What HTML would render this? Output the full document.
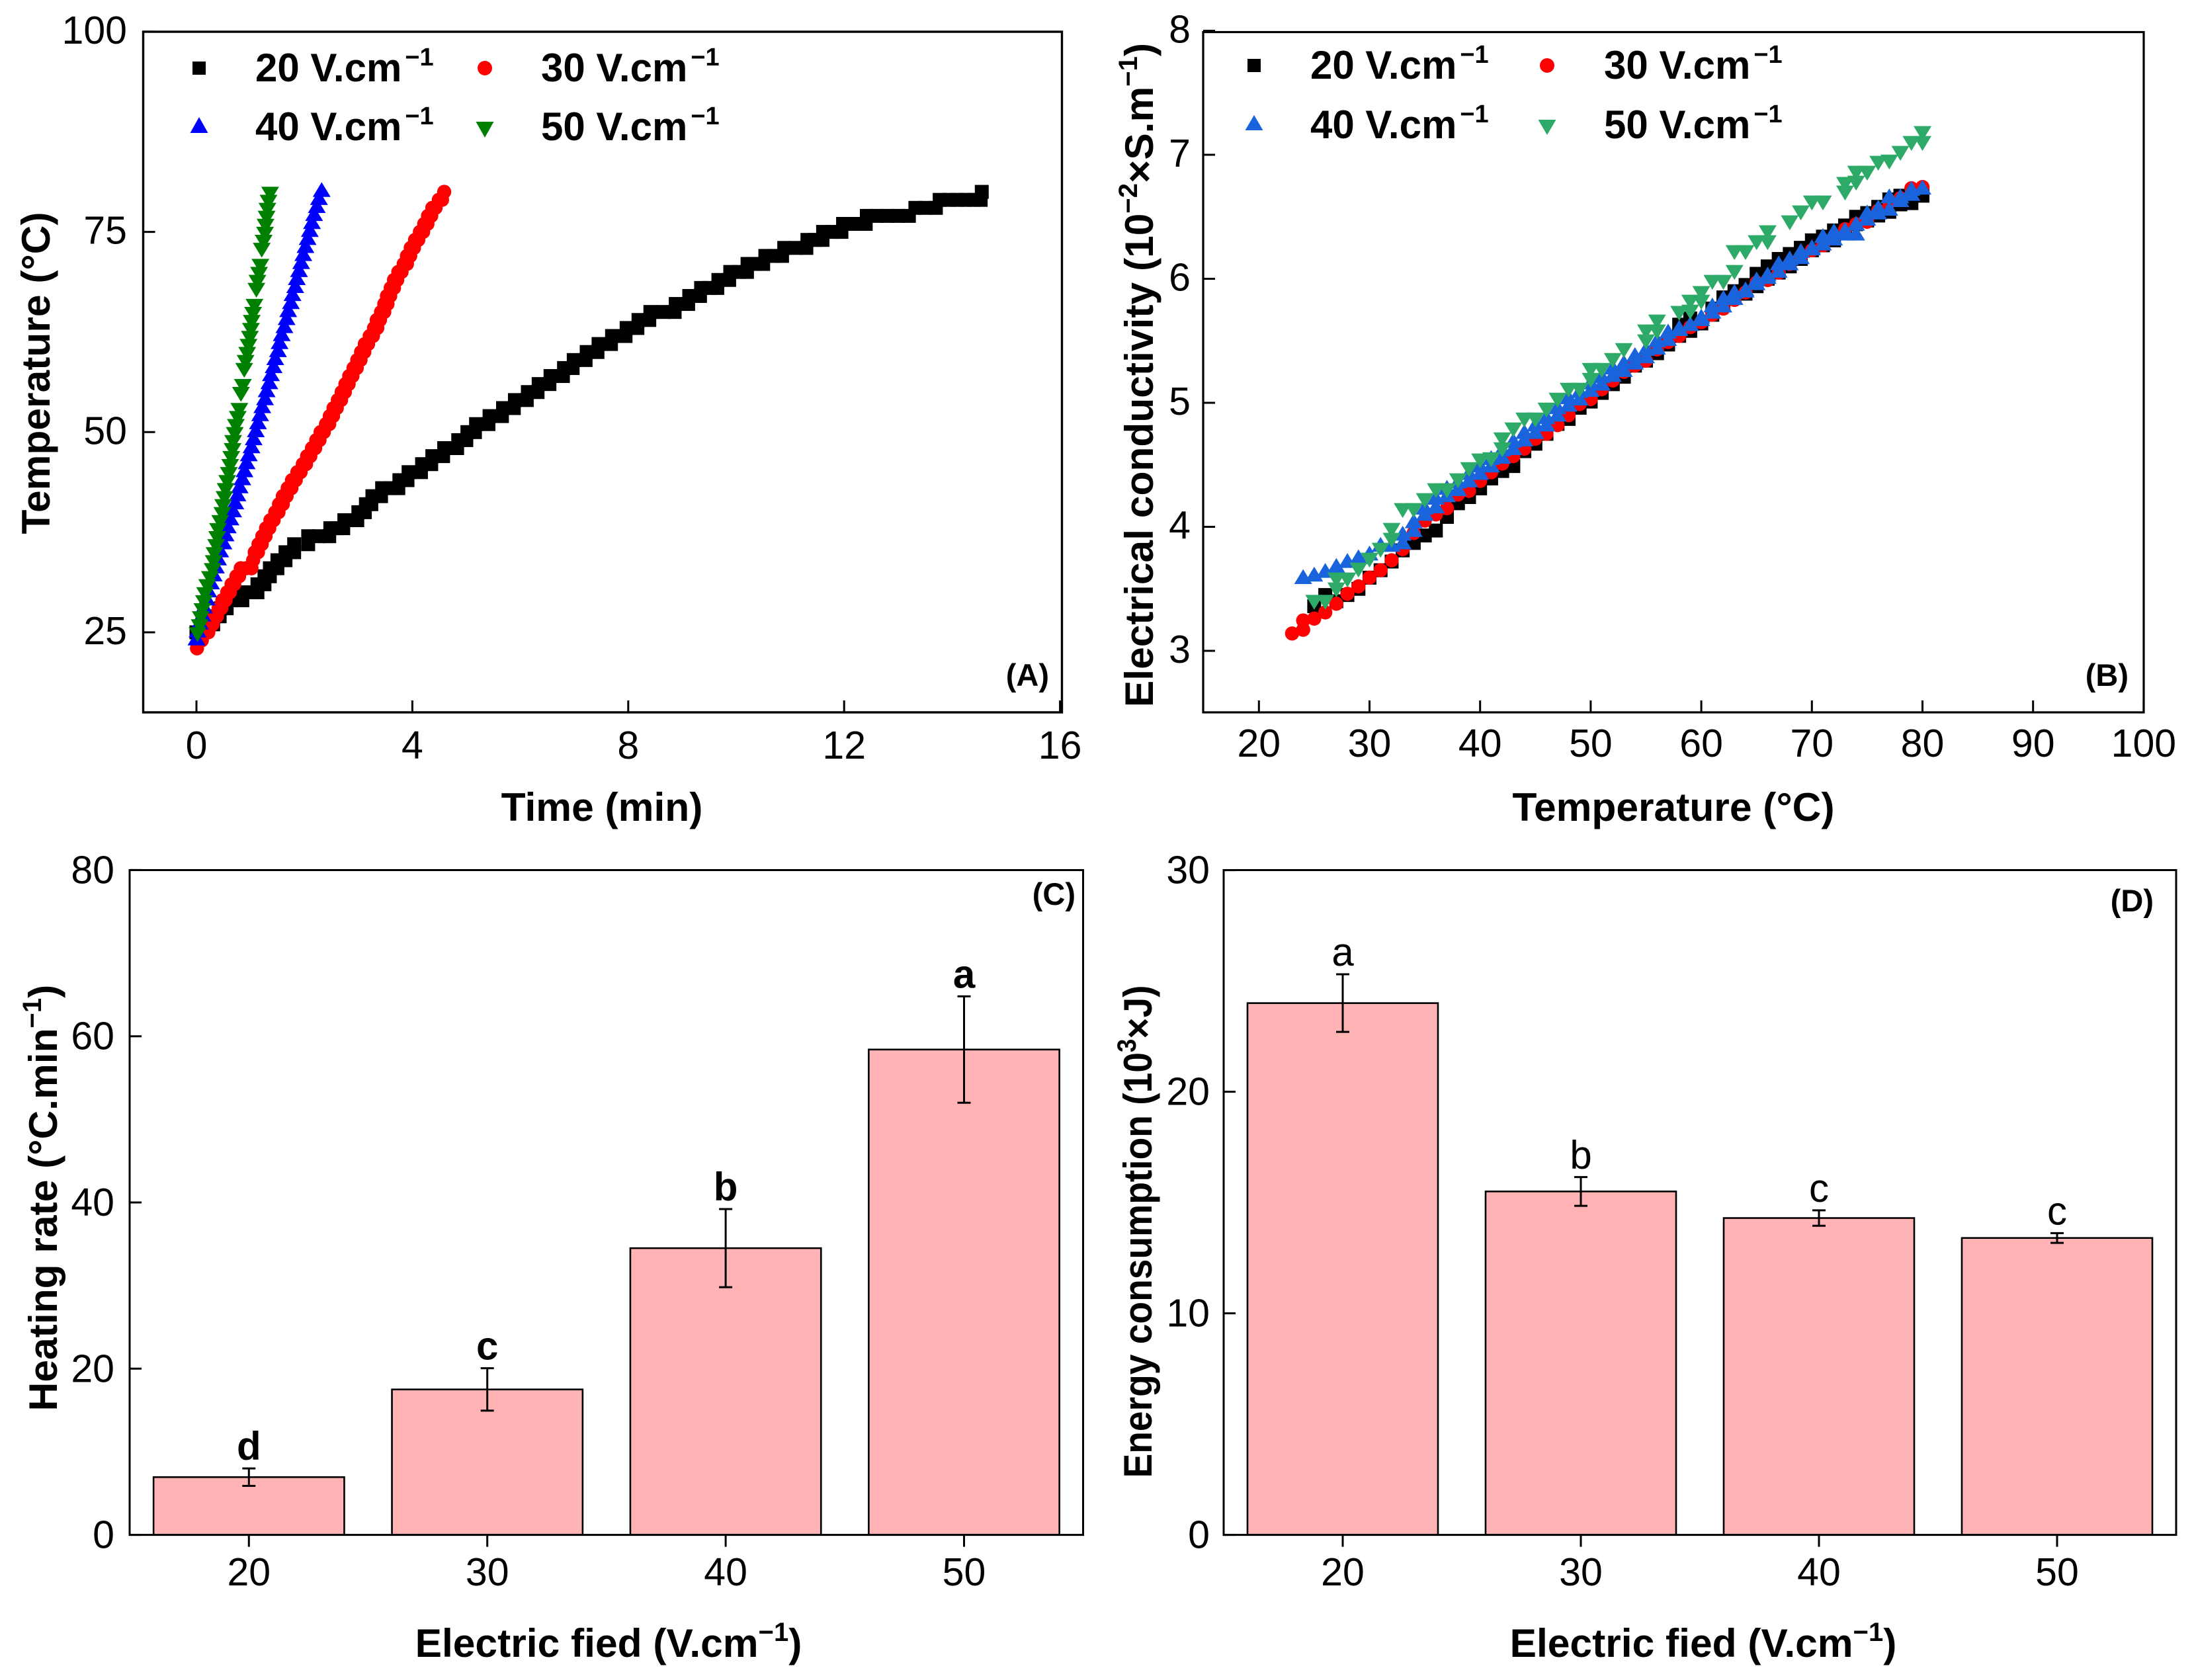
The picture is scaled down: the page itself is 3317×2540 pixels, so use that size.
<!DOCTYPE html>
<html lang="en">
<head>
<meta charset="utf-8">
<title>Ohmic heating panels</title>
<style>
html,body{margin:0;padding:0;background:#fff;}
svg{display:block;}
text{font-family:"Liberation Sans",sans-serif;fill:#000;}
.t{font-size:60.5px;font-weight:bold;}
.l{font-size:60px;font-weight:bold;}
.p{font-size:47px;font-weight:bold;text-anchor:end;}
.k{font-size:59px;}
</style>
</head>
<body>
<svg id="chart" width="3317" height="2540" viewBox="0 0 3317 2540" xmlns="http://www.w3.org/2000/svg">
<rect width="3317" height="2540" fill="#fff"/>
<g id="marks-a"></g>
<g id="marks-b"></g>
<g id="marks-c"></g>
<g id="marks-d"></g>
<g id="axes"></g>

<text class="t" text-anchor="middle" transform="translate(75,564) rotate(-90)">Temperature (°C)</text>
<text class="t" text-anchor="middle" x="910" y="1241">Time (min)</text>
<text class="p" x="1586" y="1037">(A)</text>

<text class="t" text-anchor="middle" transform="translate(1743,567) rotate(-90)">Electrical conductivity (10<tspan font-size="40" dy="-24">−2</tspan><tspan dy="24">×S.m</tspan><tspan font-size="40" dy="-24">−1</tspan><tspan dy="24">)</tspan></text>
<text class="t" text-anchor="middle" x="2530" y="1241">Temperature (°C)</text>
<text class="p" x="3218" y="1037">(B)</text>

<text class="t" text-anchor="middle" transform="translate(86,1811) rotate(-90)">Heating rate (°C.min<tspan font-size="40" dy="-24">−1</tspan><tspan dy="24">)</tspan></text>
<text class="t" text-anchor="middle" x="920" y="2505">Electric fied (V.cm<tspan font-size="40" dy="-24">−1</tspan><tspan dy="24">)</tspan></text>
<text class="p" x="1626" y="1368">(C)</text>

<text class="t" text-anchor="middle" transform="translate(1741,1862) rotate(-90) scale(0.912,1)">Energy consumption (10<tspan font-size="40" dy="-24">3</tspan><tspan dy="24">×J)</tspan></text>
<text class="t" text-anchor="middle" x="2575" y="2505">Electric fied (V.cm<tspan font-size="40" dy="-24">−1</tspan><tspan dy="24">)</tspan></text>
<text class="p" x="3256" y="1378">(D)</text>

<g>
  <rect x="291" y="93" width="20" height="20" fill="#000"/>
  <text class="l" x="386" y="123">20 V.cm<tspan font-size="38" dy="-24" dx="5">−1</tspan></text>
  <circle cx="733" cy="103" r="11" fill="#f00"/>
  <text class="l" x="818" y="123">30 V.cm<tspan font-size="38" dy="-24" dx="5">−1</tspan></text>
  <polygon points="301,177 314.5,201 287.5,201" fill="#00f"/>
  <text class="l" x="386" y="212">40 V.cm<tspan font-size="38" dy="-24" dx="5">−1</tspan></text>
  <polygon points="719.5,184 746.5,184 733,208" fill="#008000"/>
  <text class="l" x="818" y="212">50 V.cm<tspan font-size="38" dy="-24" dx="5">−1</tspan></text>
</g>
<g>
  <rect x="1886" y="89" width="20" height="20" fill="#000"/>
  <text class="l" x="1981" y="119">20 V.cm<tspan font-size="38" dy="-24" dx="5">−1</tspan></text>
  <circle cx="2339" cy="99" r="11" fill="#f00"/>
  <text class="l" x="2425" y="119">30 V.cm<tspan font-size="38" dy="-24" dx="5">−1</tspan></text>
  <polygon points="1896,174 1909.5,197 1882.5,197" fill="#1964dc"/>
  <text class="l" x="1981" y="209">40 V.cm<tspan font-size="38" dy="-24" dx="5">−1</tspan></text>
  <polygon points="2325.5,181 2352.5,181 2339,204" fill="#2eaa68"/>
  <text class="l" x="2425" y="209">50 V.cm<tspan font-size="38" dy="-24" dx="5">−1</tspan></text>
</g>
</svg>
<script>
/* ---------- Panel A: time (min) vs temperature (°C) ---------- */
const timeA20 = [0,0.1, 0.15,0.31, 0.33,0.43, 0.45,0.56, 0.65,0.85, 0.85,1.0,1.13, 1.13,1.26, 1.26,1.36, 1.36,1.5, 1.5,1.65, 1.65,1.81, 1.81,2.07, 2.07,2.27,2.46, 2.48,2.6,2.72, 2.74,2.86,2.98, 3.0,3.12, 3.14,3.24, 3.26,3.42, 3.44,3.6,3.74, 3.76,3.91, 3.93,4.16, 4.18,4.35, 4.37,4.57, 4.59,4.83, 4.85,5.0, 5.02,5.16, 5.18,5.41, 5.43,5.66, 5.68,5.88, 5.9,6.12, 6.14,6.32, 6.34,6.54, 6.56,6.79, 6.81,6.97, 6.99,7.21, 7.23,7.43, 7.45,7.68, 7.7,7.95, 7.97,8.17, 8.19,8.39, 8.41,8.65,8.86, 8.88,9.11, 9.13,9.33, 9.35,9.5,9.65, 9.67,9.87, 9.89,10.05,10.2, 10.21,10.35,10.5, 10.54,10.7,10.85, 10.89,11.1,11.3, 11.32,11.46,11.6, 11.61,11.78,11.95, 11.98,12.18,12.4, 12.42,12.6,12.8,13.0,13.2, 13.32,13.5,13.7, 13.77,13.95,14.1,14.25,14.4,14.53, 14.55];
const tempA20 = [25,25, 26,26, 27,27, 28,28, 29,29, 30,30,30, 31,31, 32,32, 33,33, 34,34, 35,35, 36,36, 37,37,37, 38,38,38, 39,39,39, 40,40, 41,41, 42,42, 43,43,43, 44,44, 45,45, 46,46, 47,47, 48,48, 49,49, 50,50, 51,51, 52,52, 53,53, 54,54, 55,55, 56,56, 57,57, 58,58, 59,59, 60,60, 61,61, 62,62, 63,63, 64,64, 65,65,65, 66,66, 67,67, 68,68,68, 69,69, 70,70,70, 71,71,71, 72,72,72, 73,73,73, 74,74,74, 75,75,75, 76,76,76, 77,77,77,77,77, 78,78,78, 79,79,79,79,79,79, 80];
const timeA30 = [0.01, 0.1, 0.18,0.22, 0.26,0.3, 0.33,0.38, 0.41,0.46, 0.48,0.54, 0.57,0.62, 0.65,0.7, 0.74,0.79, 0.82,0.92,1.02, 1.05, 1.08,1.14, 1.15,1.21, 1.22,1.28, 1.29,1.35, 1.37,1.43, 1.46,1.52, 1.53,1.6, 1.6,1.67, 1.69,1.76, 1.77,1.84, 1.87,1.93, 1.97,2.03, 2.05,2.11, 2.14,2.2, 2.22,2.28, 2.3,2.36, 2.4,2.46, 2.47,2.53, 2.54,2.6, 2.62,2.68, 2.69,2.75, 2.76,2.82, 2.83,2.89, 2.91,2.97, 2.98,3.04, 3.05,3.11, 3.12,3.18, 3.21,3.27, 3.29,3.35, 3.34,3.4, 3.42,3.48, 3.48,3.54, 3.53,3.59, 3.6,3.66, 3.66,3.72, 3.74,3.8, 3.84,3.9, 3.9,3.96, 3.97,4.03, 4.05,4.11, 4.14,4.2, 4.22,4.28, 4.29,4.35, 4.37,4.43, 4.49,4.55, 4.59];
const tempA30 = [23, 24, 25,25, 26,26, 27,27, 28,28, 29,29, 30,30, 31,31, 32,32, 33,33,33, 34, 35,35, 36,36, 37,37, 38,38, 39,39, 40,40, 41,41, 42,42, 43,43, 44,44, 45,45, 46,46, 47,47, 48,48, 49,49, 50,50, 51,51, 52,52, 53,53, 54,54, 55,55, 56,56, 57,57, 58,58, 59,59, 60,60, 61,61, 62,62, 63,63, 64,64, 65,65, 66,66, 67,67, 68,68, 69,69, 70,70, 71,71, 72,72, 73,73, 74,74, 75,75, 76,76, 77,77, 78,78, 79,79, 80];
const timeA40 = [0,0.02,0.06,0.11,0.14,0.19,0.22,0.27,0.32,0.36,0.4,0.44,0.5,0.54,0.58,0.63,0.68,0.72,0.76,0.8,0.85,0.89,0.93,0.97,1.02,1.06,1.1,1.14,1.18,1.22,1.27,1.3,1.35,1.38,1.43,1.46,1.51,1.54,1.58,1.63,1.67,1.7,1.75,1.78,1.83,1.86,1.9,1.94,1.98,2.02,2.06,2.1,2.14,2.18,2.23,2.27,2.32];
const tempA40 = [24,25,26,27,28,29,30,31,32,33,34,35,36,37,38,39,40,41,42,43,44,45,46,47,48,49,50,51,52,53,54,55,56,57,58,59,60,61,62,63,64,65,66,67,68,69,70,71,72,73,74,75,76,77,78,79,80];
const timeA50 = [0.02,0.06,0.08,0.11,0.14,0.16,0.2,0.25,0.3,0.32,0.335,0.365,0.385,0.4,0.44,0.48,0.495,0.52,0.54,0.57,0.6,0.625,0.645,0.67,0.68,0.71,0.73,0.765,0.795,0.825,0.86,0.885,0.91,0.94,0.965,0.99,1.01,1.025,1.05,1.075,1.11,1.13,1.16,1.185,1.21,1.245,1.27,1.28,1.3,1.315,1.335,1.365];
const tempA50 = [25,26,27,28,29,30,31,32,33,34,35,36,37,38,39,40,41,42,43,44,45,46,47,48,49,50,51,52,53,55,56,58,59,60,61,62,63,64,65,66,68,69,70,71,73,74,75,76,77,78,79,80];

/* ---------- Panel B: temperature (°C) vs conductivity ---------- */
const tempB20 = [25,26,27,28,29,30,31,32,33,34,35,36,37,38,39,40,41,42,43,44,45,46,47,48,49,50,51,52,53,54,55,56,57,58,58,59,59,60,61,61,62,62,63,63,64,64,65,65,66,66,67,67,68,68,69,69,70,70,71,71,72,72,73,73,74,74,75,75,76,76,77,77,78,78,79,80];
const condB20 = [3.36,3.45,3.4,3.45,3.5,3.59,3.65,3.72,3.81,3.87,3.93,3.97,4.08,4.19,4.24,4.31,4.39,4.45,4.49,4.61,4.67,4.75,4.83,4.87,4.96,5.01,5.08,5.15,5.21,5.3,5.34,5.4,5.47,5.54,5.63,5.58,5.68,5.64,5.71,5.76,5.8,5.85,5.85,5.9,5.88,5.95,5.94,6.04,6.0,6.1,6.05,6.16,6.1,6.2,6.16,6.25,6.23,6.31,6.27,6.34,6.31,6.39,6.37,6.43,6.44,6.5,6.47,6.53,6.51,6.58,6.54,6.64,6.6,6.67,6.61,6.67];
const tempB30 = [23,24,24,25,26,27,28,29,30,31,32,33,34,35,36,37,38,39,40,41,42,43,44,45,46,47,48,49,50,51,52,53,54,55,56,57,58,59,60,61,62,63,64,65,66,67,68,69,70,71,72,73,74,75,76,77,78,79,80];
const condB30 = [3.14,3.245,3.17,3.26,3.31,3.38,3.46,3.52,3.59,3.65,3.73,3.82,3.95,4.05,4.1,4.15,4.26,4.29,4.37,4.44,4.51,4.57,4.63,4.71,4.75,4.82,4.9,4.99,5.03,5.11,5.18,5.25,5.3,5.34,5.43,5.49,5.54,5.61,5.65,5.71,5.76,5.83,5.89,5.97,5.99,6.05,6.12,6.18,6.23,6.27,6.33,6.4,6.44,6.46,6.55,6.62,6.65,6.73,6.74];
const tempB40 = [24,25,26,27,28,29,30,31,32,33,33, 34,34,35,35,36,36,37,37,38,38,39,39,40,40,41,41,42,42,43,43,44,44,45,45,46,46,47,47,48,48,49,49,50,50,51,51,52,52,53,53,54,54,55,55,56,56, 57,57,58,58,59,59,60,60,61,61,62,62,63,63,64,64,65,65,66,66,67,67,68,68,69,69,70,70,71,71,72,72,73,73,74,74,75,75,76,76,77,77,78,78,79,79,80];
const condB40 = [3.58,3.6,3.63,3.67,3.71,3.74,3.77,3.84,3.84,3.86,3.93, 3.96,4.03,4.09,4.14,4.15,4.22,4.24,4.3,4.29,4.35,4.36,4.42,4.42,4.48,4.48,4.54,4.55,4.61,4.62,4.68,4.69,4.75,4.75,4.81,4.81,4.87,4.89,4.95,4.97,5.03,5.02,5.08,5.09,5.15,5.14,5.2,5.21,5.27,5.25,5.31,5.31,5.37,5.36,5.42,5.43,5.49, 5.5,5.56,5.58,5.59,5.62,5.62,5.66,5.68,5.72,5.77,5.77,5.83,5.83,5.88,5.9,5.89,5.95,5.98,6.0,6.02,6.05,6.11,6.11,6.15,6.16,6.21,6.23,6.24,6.27,6.33,6.31,6.37,6.35,6.38,6.35,6.43,6.47,6.52,6.52,6.56,6.55,6.65,6.62,6.65,6.67,6.71,6.72];
const tempB50 = [25,26,27,27,28,29,30,31,32,32,33,34,35,36,37,38,39,40,41,42,42,43,44,45,46,47,48,49,50,50,51,52,53,55,55,56,56,58,59,59,60,60,61,62,63,63,64,65,66,66,68,69,70,71,73,73,74,74,75,76,77,78,79,80,80];
const condB50 = [3.41,3.41,3.51,3.59,3.59,3.67,3.75,3.83,3.91,3.99,4.15,4.15,4.23,4.31,4.31,4.39,4.48,4.55,4.56,4.64,4.72,4.8,4.88,4.88,4.96,5.04,5.12,5.12,5.2,5.28,5.28,5.36,5.44,5.51,5.59,5.59,5.67,5.74,5.75,5.83,5.83,5.9,5.99,5.99,6.07,6.23,6.23,6.31,6.31,6.39,6.47,6.55,6.63,6.63,6.71,6.78,6.79,6.87,6.87,6.95,6.96,7.03,7.11,7.11,7.19];

/* ---------- Panels C and D: bars ---------- */
const fieldCategories = [20,30,40,50];
const heatingRate = [6.95,17.5,34.5,58.4];
const heatingErr = [1.05,2.55,4.7,6.4];
const heatingLetters = ['d','c','b','a'];
const energyUse = [24,15.5,14.3,13.4];
const energyErr = [1.3,0.65,0.35,0.22];
const energyLetters = ['a','b','c','c'];

/* ---------- Tick labels ---------- */
const ticksAx = [0,4,8,12,16];
const ticksAy = [25,50,75,100];
const ticksBx = [20,30,40,50,60,70,80,90,100];
const ticksBy = [3,4,5,6,7,8];
const ticksCy = [0,20,40,60,80];
const ticksDy = [0,10,20,30];

/* ---------- Axis functions ---------- */
const xA = v => 297 + v * 81.6;
const yA = v => 956 - (v - 25) * 12.108;
const xB = v => 1903.3 + (v - 20) * 16.72;
const yB = v => 984 - (v - 3) * 187.5;
const xC = v => 376.3 + (v - 20) * 36.04;
const yC = v => 2320.6 - v * 12.565;
const xD = v => 2030 + (v - 20) * 36;
const yD = v => 2320.6 - v * 33.5;

const NS = 'http://www.w3.org/2000/svg';
function mk(parent, tag, attrs, txt) {
  const el = document.createElementNS(NS, tag);
  for (const k in attrs) el.setAttribute(k, attrs[k]);
  if (txt !== undefined) el.textContent = txt;
  parent.appendChild(el);
  return el;
}
function marker(parent, shape, x, y, color) {
  let el;
  if (shape === 'square') el = mk(parent, 'rect', {x: x - 10.5, y: y - 10.5, width: 21, height: 21, fill: color});
  if (shape === 'circle') el = mk(parent, 'circle', {cx: x, cy: y, r: 10.7, fill: color});
  if (shape === 'up') el = mk(parent, 'polygon', {points: (x) + ',' + (y - 14.7) + ' ' + (x + 13.5) + ',' + (y + 7.7) + ' ' + (x - 13.5) + ',' + (y + 7.7), fill: color});
  if (shape === 'down') el = mk(parent, 'polygon', {points: (x - 13.5) + ',' + (y - 7.7) + ' ' + (x + 13.5) + ',' + (y - 7.7) + ' ' + (x) + ',' + (y + 14.7), fill: color});
  return el;
}
function series(parent, name, shape, color, xs, ys, fx, fy) {
  const g = mk(parent, 'g', {});
  
  
  for (let i = 0; i < xs.length; i++) {
    const el = marker(g, shape, fx(xs[i]), fy(ys[i]), color);
    
    
  }
}
const ma = document.getElementById('marks-a');
series(ma, 'series-20-v-cm', 'square', '#000', timeA20, tempA20, xA, yA);
series(ma, 'series-30-v-cm', 'circle', '#f00', timeA30, tempA30, xA, yA);
series(ma, 'series-40-v-cm', 'up', '#00f', timeA40, tempA40, xA, yA);
series(ma, 'series-50-v-cm', 'down', '#008000', timeA50, tempA50, xA, yA);
const mb = document.getElementById('marks-b');
series(mb, 'series-20-v-cm', 'square', '#000', tempB20, condB20, xB, yB);
series(mb, 'series-30-v-cm', 'circle', '#f00', tempB30, condB30, xB, yB);
series(mb, 'series-40-v-cm', 'up', '#1964dc', tempB40, condB40, xB, yB);
series(mb, 'series-50-v-cm', 'down', '#2eaa68', tempB50, condB50, xB, yB);

function bars(parent, vals, errs, letters, fx, fy, bold, gap, yzero) {
  fieldCategories.forEach((c, i) => {
    const cx = fx(c);
    const top = fy(vals[i]);
    const w = (fx(28) - fx(20));
    const b = mk(parent, 'rect', {x: cx - w / 2, y: top, width: w, height: yzero - top, fill: '#ffb3b5', stroke: '#000', 'stroke-width': 2.6});
    
    
    const hi = fy(vals[i] + errs[i]);
    const lo = fy(vals[i] - errs[i]);
    const e = mk(parent, 'path', {d: 'M' + cx + ' ' + hi + 'V' + lo + 'M' + (cx - 10) + ' ' + hi + 'H' + (cx + 10) + 'M' + (cx - 10) + ' ' + lo + 'H' + (cx + 10), stroke: '#000', 'stroke-width': 3, fill: 'none'});
    
    
    const t = mk(parent, 'text', {x: cx, y: hi - gap, 'text-anchor': 'middle', 'font-size': 60, 'font-weight': bold ? 'bold' : 'normal'}, letters[i]);
    
    
  });
}
bars(document.getElementById('marks-c'), heatingRate, heatingErr, heatingLetters, xC, yC, true, 13, 2320.6);
bars(document.getElementById('marks-d'), energyUse, energyErr, energyLetters, xD, yD, false, 13, 2320.6);

function frame(parent, name, x0, y0, x1, y1, sw) {
  const r = mk(parent, 'rect', {x: x0, y: y0, width: x1 - x0, height: y1 - y0, fill: 'none', stroke: '#000', 'stroke-width': sw});
  
  
}
function xTicks(parent, panel, ticks, fx, yAxis, dir, labelY) {
  ticks.forEach(v => {
    const x = fx(v);
    const l = mk(parent, 'line', {x1: x, x2: x, y1: yAxis, y2: yAxis + dir * 18, stroke: '#000', 'stroke-width': 3});
    
    
    const t = mk(parent, 'text', {x: x, y: labelY, class: 'k', 'text-anchor': 'middle'}, v);
    
    
  });
}
function yTicks(parent, panel, ticks, fy, xAxis, labelX, off) {
  ticks.forEach(v => {
    const y = fy(v);
    const l = mk(parent, 'line', {x1: xAxis, x2: xAxis + 18, y1: y, y2: y, stroke: '#000', 'stroke-width': 3});
    
    
    const t = mk(parent, 'text', {x: labelX, y: y + off, class: 'k', 'text-anchor': 'end'}, v);
    
    
  });
}
const ax = document.getElementById('axes');
frame(ax, 'panel-a-frame', 216.5, 48, 1605.5, 1077, 3.4);
xTicks(ax, 'panel-a', ticksAx, xA, 1077, -1, 1147);
yTicks(ax, 'panel-a', ticksAy, yA, 216.5, 192, 18);
frame(ax, 'panel-b-frame', 1819, 48.5, 3241, 1077, 3.2);
xTicks(ax, 'panel-b', ticksBx, xB, 1077, -1, 1144);
yTicks(ax, 'panel-b', ticksBy, yB, 1819, 1800, 18);
frame(ax, 'panel-c-frame', 196, 1315.5, 1637.5, 2320.6, 3);
xTicks(ax, 'panel-c', fieldCategories, xC, 2320.6, 1, 2397);
yTicks(ax, 'panel-c', ticksCy, yC, 196, 173, 20);
frame(ax, 'panel-d-frame', 1850, 1315.5, 3290, 2320.6, 3);
xTicks(ax, 'panel-d', fieldCategories, xD, 2320.6, 1, 2397);
yTicks(ax, 'panel-d', ticksDy, yD, 1850, 1829, 20);
</script>
</body>
</html>
